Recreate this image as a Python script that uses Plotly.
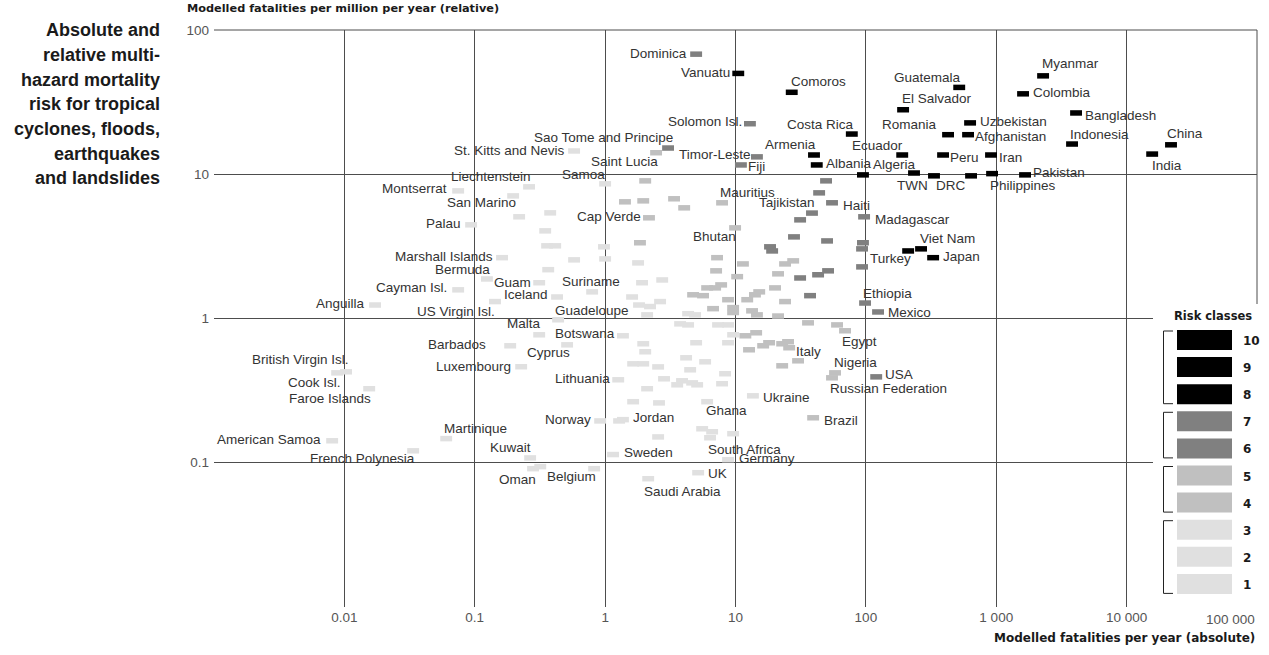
import math
import plotly.graph_objects as go

# ---------------- data ----------------
names = [
    # risk classes 8-10
    "Vanuatu", "Comoros", "Costa Rica", "Armenia", "Albania", "Guatemala", "El Salvador",
    "Romania", "Ecuador", "Algeria", "", "TWN", "DRC", "Philippines", "Peru", "Uzbekistan",
    "Afghanistan", "Iran", "Colombia", "Myanmar", "Bangladesh", "Indonesia", "Pakistan",
    "China", "India", "Turkey", "Viet Nam", "Japan",
    # risk classes 6-7
    "Dominica", "Solomon Isl.", "Sao Tome and Principe", "Timor-Leste", "Fiji", "", "Tajikistan",
    "Haiti", "", "", "Madagascar", "", "", "", "", "", "", "", "", "", "", "", "Ethiopia",
    "Mexico", "USA",
    # risk classes 4-5
    "Saint Lucia", "", "", "", "", "", "Mauritius", "Cap Verde", "Bhutan", "", "", "", "", "",
    "", "", "", "", "", "", "", "", "", "", "", "", "", "", "", "", "", "", "", "", "", "",
    "Egypt", "", "", "", "", "", "", "", "Italy", "", "", "Nigeria", "Russian Federation", "Brazil",
    # risk classes 1-3
    "St. Kitts and Nevis", "Samoa", "Liechtenstein", "San Marino", "Montserrat", "", "", "Palau",
    "", "", "", "", "", "", "Marshall Islands", "", "", "", "Bermuda", "", "Guam", "Cayman Isl.",
    "Iceland", "US Virgin Isl.", "Anguilla", "Suriname", "Guadeloupe", "", "", "", "", "", "", "",
    "", "", "", "", "Malta", "Botswana", "", "Cyprus", "Barbados", "", "", "", "", "Luxembourg",
    "", "", "", "", "", "", "", "Cook Isl.", "British Virgin Isl.", "Faroe Islands", "Lithuania",
    "", "", "", "", "", "", "", "Ukraine", "", "", "Ghana", "Jordan", "Norway", "", "", "",
    "South Africa", "", "", "Martinique", "American Samoa", "French Polynesia", "Sweden", "Kuwait",
    "Germany", "Oman", "", "Belgium", "UK", "Saudi Arabia",
]

# modelled fatalities per year (absolute)
abs_fatalities = [
    10.5, 27, 78, 40, 42, 520, 193, 427, 190, 234, 95, 333, 641, 929, 391, 630,
    608, 912, 1606, 2287, 4095, 3814, 1663, 21900, 15700, 211, 265, 328,
    4.99, 12.9, 3.04, 14.6, 11.0, 49.5, 43.8, 55, 38.6, 31.3, 96.9, 28.1, 50.4, 18.4, 19.1,
    95, 93.5, 93.5, 31.3, 43, 51.3, 37.3, 98.6, 124, 120,
    2.46, 2.03, 1.42, 1.96, 3.38, 4.04, 7.89, 2.17, 9.93, 1.85, 7.22, 7.1, 11.4, 10.3, 24,
    27.7, 21.2, 6.06, 6.98, 7.76, 4.73, 5.64, 8.77, 12.3, 14.1, 15.2, 20.1, 24, 6.73, 9.59,
    9.59, 13.4, 14.6, 21.2, 36, 60.1, 69.2, 11.9, 14.4, 12.7, 16.3, 18.1, 22.8, 25.3, 25.8,
    30.2, 22.8, 58, 55, 39.4,
    0.578, 1.0, 0.261, 0.197, 0.0746, 0.379, 0.219, 0.0938, 0.347, 0.359, 0.414, 0.98, 1.0,
    0.578, 0.162, 1.79, 2.74, 1.92, 0.124, 0.366, 0.312, 0.0746, 0.428, 0.143, 0.0172, 0.795,
    0.436, 1.61, 1.82, 2.21, 2.64, 2.1, 4.33, 4.9, 3.76, 4.33, 7.35, 8.77, 0.312, 1.37, 9.59,
    0.511, 0.187, 1.96, 4.99, 8.77, 2.03, 0.227, 1.64, 1.96, 2.55, 4.18, 4.49, 5.85, 8.32,
    0.0088, 0.0103, 0.0155, 1.26, 2.1, 2.83, 3.89, 3.57, 4.65, 5.08, 7.89, 13.6, 1.64, 2.59,
    6.06, 1.37, 0.916, 1.28, 5.55, 6.62, 6.38, 9.59, 2.55, 0.0604, 0.00806, 0.0337, 1.15,
    0.266, 8.77, 0.28, 0.318, 0.824, 5.17, 2.14,
]

# modelled fatalities per million per year (relative)
rel_fatalities = [
    50, 37, 19, 13.6, 11.6, 40, 28, 18.8, 13.6, 10.2, 9.9, 9.75, 9.75, 10.1, 13.6, 22.7,
    18.8, 13.6, 36.1, 48.1, 26.6, 16.2, 9.9, 16, 13.8, 2.94, 3.04, 2.64,
    68, 22.4, 15.2, 13.2, 11.6, 9.0, 7.43, 6.34, 5.38, 4.83, 5.07, 3.68, 3.45, 3.14, 2.94,
    3.35, 3.04, 2.28, 1.91, 2.01, 2.14, 1.44, 1.28, 1.11, 0.394,
    14.1, 9.0, 6.44, 6.54, 6.76, 5.85, 6.34, 4.99, 4.25, 3.35, 2.64, 2.14, 2.39, 1.95, 2.39,
    2.51, 2.04, 1.63, 1.63, 1.71, 1.46, 1.44, 1.35, 1.35, 1.46, 1.53, 1.63, 1.31, 1.17, 1.19,
    1.1, 1.13, 1.06, 1.04, 0.933, 0.903, 0.822, 0.759, 0.796, 0.607, 0.647, 0.679, 0.668, 0.69,
    0.627, 0.509, 0.47, 0.42, 0.388, 0.205,
    14.5, 8.58, 8.18, 7.08, 7.67, 5.4, 5.07, 4.46, 4.05, 3.19, 3.19, 3.14, 2.59, 2.55, 2.64,
    2.43, 1.85, 1.77, 1.88, 2.18, 1.77, 1.58, 1.41, 1.31, 1.24, 1.53, 0.98, 1.41, 1.24, 1.21,
    1.31, 1.06, 1.08, 1.06, 0.918, 0.903, 0.903, 0.903, 0.771, 0.759, 0.771, 0.657, 0.647,
    0.668, 0.679, 0.679, 0.588, 0.463, 0.485, 0.485, 0.462, 0.534, 0.441, 0.501, 0.414, 0.42,
    0.427, 0.326, 0.376, 0.326, 0.382, 0.37, 0.347, 0.358, 0.347, 0.353, 0.291, 0.265, 0.26,
    0.265, 0.199, 0.195, 0.195, 0.172, 0.164, 0.149, 0.159, 0.151, 0.147, 0.142, 0.121, 0.114,
    0.108, 0.105, 0.091, 0.094, 0.091, 0.0853, 0.0775,
]

risk_class = [8] * 28 + [6] * 25 + [4] * 50 + [2] * 89

x_tick_values = [0.01, 0.1, 1, 10, 100, 1000, 10000, 100000]
x_tick_labels = ["0.01", "0.1", "1", "10", "100", "1 000", "10 000", "100 000"]
y_tick_values = [0.1, 1, 10, 100]
y_tick_labels = ["0.1", "1", "10", "100"]

legend_classes = [10, 9, 8, 7, 6, 5, 4, 3, 2, 1]
legend_groups = [(10, 8), (7, 6), (5, 4), (3, 1)]

title_lines = ["Absolute and", "relative multi-", "hazard mortality", "risk for tropical",
               "cyclones, floods,", "earthquakes", "and landslides"]

n_pts = min(len(names), len(abs_fatalities), len(rel_fatalities), len(risk_class))

# ---------------- styling ----------------
W, H = 1269, 655
ML, MR, MT, MB = 214, 12, 30, 48
PW, PH = W - ML - MR, H - MT - MB


def pp(px, py):
    return (px - ML) / PW, (MT + PH - py) / PH


def class_color(c):
    if c >= 8:
        return "#000000"
    if c >= 6:
        return "#808080"
    if c >= 4:
        return "#c0c0c0"
    return "#e0e0e0"


# label placement: anchor, dx, dy (pixels from the marker)
label_pos = {
    "Vanuatu": ("r", -6, -1), "Comoros": ("l", -3, -11), "Costa Rica": ("r", 4, -10),
    "Armenia": ("r", 4, -10), "Albania": ("l", 7, -1), "Guatemala": ("r", 4, -10),
    "El Salvador": ("l", -3, -11), "Romania": ("r", -9, -10), "Ecuador": ("r", 3, -9),
    "Algeria": ("r", 4, -9), "TWN": ("r", -4, 10), "DRC": ("r", -4, 10),
    "Philippines": ("l", -4, 12), "Peru": ("l", 5, 3), "Uzbekistan": ("l", 8, -1),
    "Afghanistan": ("l", 5, 2), "Iran": ("l", 6, 3), "Colombia": ("l", 8, -1),
    "Myanmar": ("l", -3, -12), "Bangladesh": ("l", 7, 3), "Indonesia": ("l", -4, -10),
    "Pakistan": ("l", 6, -2), "China": ("l", -6, -11), "India": ("l", -2, 11),
    "Turkey": ("r", 5, 8), "Viet Nam": ("l", -3, -10), "Japan": ("l", 8, -1),
    "Dominica": ("r", -7, -1), "Solomon Isl.": ("r", -6, -2),
    "Sao Tome and Principe": ("r", 7, -11), "Timor-Leste": ("r", -4, -2), "Fiji": ("l", 5, 2),
    "Tajikistan": ("r", -2, 10), "Haiti": ("l", 9, 3), "Madagascar": ("l", 9, 3),
    "Ethiopia": ("l", -4, -10), "Mexico": ("l", 8, 1), "USA": ("l", 7, -2),
    "Saint Lucia": ("r", 4, 9), "Mauritius": ("l", -4, -10), "Cap Verde": ("r", -6, -1),
    "Bhutan": ("r", 3, 9), "Egypt": ("l", -5, 11), "Italy": ("l", 5, 4),
    "Nigeria": ("l", -3, -10), "Russian Federation": ("l", -4, 11), "Brazil": ("l", 9, 3),
    "St. Kitts and Nevis": ("r", -7, 0), "Samoa": ("r", 2, -9), "Liechtenstein": ("r", 4, -10),
    "San Marino": ("r", 5, 7), "Montserrat": ("r", -9, -2), "Palau": ("r", -8, -1),
    "Marshall Islands": ("r", -7, -1), "Bermuda": ("r", 5, -9), "Guam": ("r", -6, 0),
    "Cayman Isl.": ("r", -9, -2), "Iceland": ("r", -7, -2), "US Virgin Isl.": ("r", 2, 10),
    "Anguilla": ("r", -8, -2), "Suriname": ("c", -1, -10), "Guadeloupe": ("l", -5, -9),
    "Malta": ("r", 4, -11), "Botswana": ("r", -6, -2), "Cyprus": ("r", 5, 8),
    "Barbados": ("r", -22, -1), "Luxembourg": ("r", -8, 0), "Cook Isl.": ("r", 6, 10),
    "British Virgin Isl.": ("r", 5, -12), "Faroe Islands": ("r", 4, 10),
    "Lithuania": ("r", -6, -1), "Ukraine": ("l", 8, 2), "Ghana": ("l", -3, 9),
    "Jordan": ("l", 8, -2), "Norway": ("r", -7, -1), "South Africa": ("l", -4, 12),
    "Martinique": ("l", -4, -10), "American Samoa": ("r", -9, -1),
    "French Polynesia": ("r", 4, 8), "Sweden": ("l", 9, -2), "Kuwait": ("r", 3, -10),
    "Germany": ("l", 9, -1), "Oman": ("r", 5, 11), "Belgium": ("r", 4, 8),
    "UK": ("l", 8, 1), "Saudi Arabia": ("l", -6, 13),
}
anchor_map = {"l": "left", "r": "right", "c": "center"}

LABEL_FONT = dict(family="Liberation Sans, Arial, sans-serif", size=13.5, color="#333333")
TICK_FONT = dict(family="Liberation Sans, Arial, sans-serif", size=13.5, color="#555555")
WIDE_BOLD = "DejaVu Sans, Verdana, sans-serif"
GRID = "#4d4d4d"

fig = go.Figure()

# markers, lightest classes first
for lo, hi in [(1, 3), (4, 5), (6, 7), (8, 10)]:
    idx = [i for i in range(n_pts) if lo <= risk_class[i] <= hi]
    col = class_color(hi)
    fig.add_trace(go.Scatter(
        x=[abs_fatalities[i] for i in idx],
        y=[rel_fatalities[i] for i in idx],
        text=[names[i] for i in idx],
        mode="markers",
        marker=dict(symbol="line-ew", size=8.5, color=col,
                    line=dict(width=5.5, color=col)),
        hoverinfo="text+x+y",
        showlegend=False,
    ))

annotations = []
for i in range(n_pts):
    n = names[i]
    if not n:
        continue
    a, dx, dy = label_pos.get(n, ("l", 6, 0))
    # annotations on log axes are positioned in log10 units
    annotations.append(dict(
        x=math.log10(abs_fatalities[i]), y=math.log10(rel_fatalities[i]),
        xref="x", yref="y", text=n,
        showarrow=False, xanchor=anchor_map[a], yanchor="middle", xshift=dx, yshift=-dy,
        font=LABEL_FONT,
    ))

# left-hand title
for k, line in enumerate(title_lines):
    px, py = pp(162, 30.5 + k * 24.6)
    annotations.append(dict(
        x=px, y=py, xref="paper", yref="paper", text="<b>" + line + "</b>",
        showarrow=False, xanchor="right", yanchor="middle",
        font=dict(family="Liberation Sans, Arial, sans-serif", size=18, color="#1a1a1a"),
    ))

# axis titles
px, py = pp(185, 8)
annotations.append(dict(
    x=px, y=py, xref="paper", yref="paper",
    text="<b>Modelled fatalities per million per year (relative)</b>",
    showarrow=False, xanchor="left", yanchor="middle",
    font=dict(family=WIDE_BOLD, size=11.3, color="#1a1a1a"),
))
px, py = pp(1257, 638)
annotations.append(dict(
    x=px, y=py, xref="paper", yref="paper",
    text="<b>Modelled fatalities per year (absolute)</b>",
    showarrow=False, xanchor="right", yanchor="middle",
    font=dict(family=WIDE_BOLD, size=12, color="#1a1a1a"),
))
# last x tick label, kept inside the picture
px, py = pp(1257, 619)
annotations.append(dict(
    x=px, y=py, xref="paper", yref="paper", text=x_tick_labels[-1],
    showarrow=False, xanchor="right", yanchor="middle", font=TICK_FONT,
))

shapes = []
# frame lines at the top (100) and right (100 000) edges
shapes.append(dict(type="line", xref="paper", yref="paper", x0=0, y0=1, x1=1, y1=1,
                   line=dict(color=GRID, width=1), layer="below"))
shapes.append(dict(type="line", xref="paper", yref="paper", x0=1, y0=1, x1=1, y1=0,
                   line=dict(color=GRID, width=1), layer="below"))

# legend ("Risk classes")
x0, y0 = pp(1153, 304)
x1, y1 = pp(1269, 640)
shapes.append(dict(type="rect", xref="paper", yref="paper", x0=x0, y0=y0, x1=x1, y1=y1,
                   fillcolor="white", line=dict(width=0), layer="above"))
px, py = pp(1172, 316)
annotations.append(dict(
    x=px, y=py, xref="paper", yref="paper", text="<b>Risk classes</b>",
    showarrow=False, xanchor="left", yanchor="middle",
    font=dict(family=WIDE_BOLD, size=11.5, color="#1a1a1a"),
))
row_top = {}
for k, c in enumerate(legend_classes):
    top = 330 + k * 27.1
    row_top[c] = top
    ax0, ay0 = pp(1177, top)
    ax1, ay1 = pp(1232, top + 20)
    shapes.append(dict(type="rect", xref="paper", yref="paper", x0=ax0, y0=ay0, x1=ax1, y1=ay1,
                       fillcolor=class_color(c), line=dict(width=0), layer="above"))
    px, py = pp(1241, top + 11)
    annotations.append(dict(
        x=px, y=py, xref="paper", yref="paper", text="<b>%d</b>" % c,
        showarrow=False, xanchor="left", yanchor="middle",
        font=dict(family=WIDE_BOLD, size=12, color="#1a1a1a"),
    ))
for hi, lo in legend_groups:
    t = row_top[hi] + 1
    b = row_top[lo] + 19.5
    pts = [(1173, t), (1163.5, t), (1163.5, b), (1173, b)]
    for (ax, ay), (bx, by) in zip(pts[:-1], pts[1:]):
        sx0, sy0 = pp(ax, ay)
        sx1, sy1 = pp(bx, by)
        shapes.append(dict(type="line", xref="paper", yref="paper", x0=sx0, y0=sy0,
                           x1=sx1, y1=sy1, line=dict(color="#222222", width=1),
                           layer="above"))

fig.update_layout(
    width=W, height=H,
    margin=dict(l=ML, r=MR, t=MT, b=MB, pad=0),
    paper_bgcolor="white", plot_bgcolor="white",
    showlegend=False,
    annotations=annotations,
    shapes=shapes,
    xaxis=dict(
        type="log", range=[-3, 5], tickvals=x_tick_values,
        ticktext=x_tick_labels[:-1] + [""], showgrid=True, gridcolor=GRID,
        gridwidth=1, zeroline=False, showline=False, ticks="", tickfont=TICK_FONT,
    ),
    yaxis=dict(
        type="log", range=[-2, 2], tickvals=y_tick_values, ticktext=y_tick_labels,
        showgrid=True, gridcolor=GRID, gridwidth=1, zeroline=False, showline=False,
        ticks="", tickfont=TICK_FONT, ticklabelstandoff=4,
    ),
)

fig.write_html("out.html", config={"displayModeBar": False},
               post_script="document.body.style.margin='0';document.body.style.overflow='hidden';")
